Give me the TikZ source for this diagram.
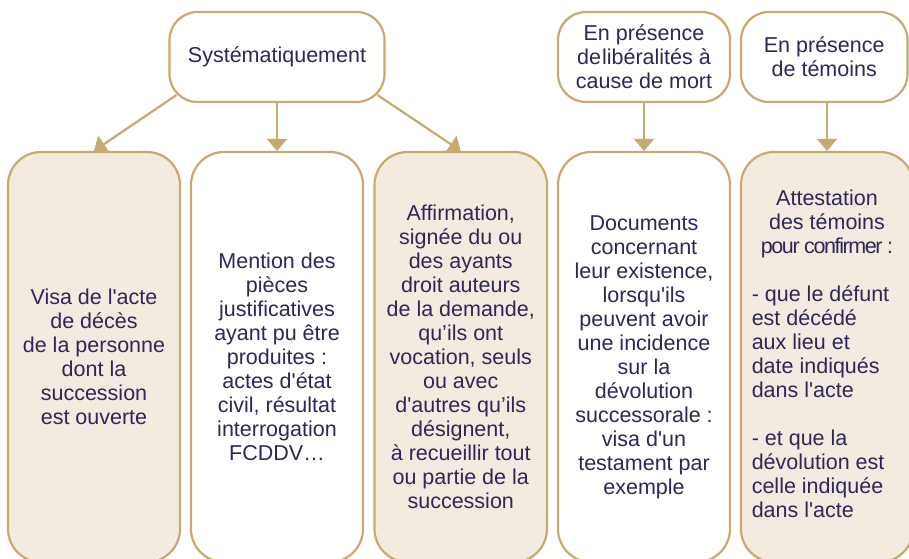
\documentclass[tikz,border=0pt]{standalone}
\usepackage{fontspec}
\setmainfont{Liberation Sans}
\usetikzlibrary{arrows.meta,calc}
\definecolor{gold}{HTML}{C8A96E}
\definecolor{sand}{HTML}{F3EBDF}
\definecolor{ink}{HTML}{2E2757}
\newcommand\straightq{\textquotesingle}
\pgfdeclarelayer{back}
\pgfsetlayers{back,main}

\begin{document}
\begin{tikzpicture}[x=1pt,y=-1pt,
  every node/.style={font=\fontsize{21.5}{24}\selectfont, text=ink, inner sep=0pt},
  head/.style={draw=gold, line width=2.2pt, fill=white, rounded corners=28pt,
               minimum height=90pt, align=center},
  panel/.style={draw=gold, line width=2.2pt, rounded corners=33pt,
                minimum height=410pt, minimum width=172pt, align=center},
  light/.style={panel, fill=white},
  warm/.style={panel, fill=sand},
  link/.style={draw=gold, line width=2.2pt, -{Triangle[width=20pt,length=12pt]}}]

\useasboundingbox (0,0) rectangle (909,558);
\clip (0,0) rectangle (909,558);

% heading boxes
\node[head, minimum width=215pt] (sys) at (277,57) {Systématiquement};
\node[head, minimum width=172pt] (lib) at (644,57) {En présence\\de\kern1pt libéralités à\\cause de mort};
\node[head, minimum width=166.5pt] (tem) at (824.25,57) {En présence\\de témoins};

% document panels
\node[warm] (b1) at (94,357) {Visa de l\straightq acte\\de décès\\de la personne\\dont la\\succession\\est ouverte};
\node[light] (b2) at (277,357) {Mention des\\pièces\\justificatives\\ayant pu être\\produites :\\actes d\straightq état\\civil, résultat\\interrogation\\FCDDV…};
\node[warm, minimum width=172.5pt] (b3) at (460.75,357) {Affirmation,\\signée du ou\\des ayants\\droit auteurs\\de la demande,\\qu’ils ont\\vocation, seuls\\ou avec\\d\straightq autres qu’ils\\désignent,\\à recueillir tout\\ou partie de la\\succession};
\node[light] (b4) at (644,357) {Documents\\concernant\\leur existence,\\lorsqu\straightq ils\\peuvent avoir\\une incidence\\sur la\\dévolution\\successorale :\\visa d\straightq un\\testament par\\exemple};
\node[warm] (b5) at (827,357) {\begin{tabular}{@{}l@{\hspace{13pt}}}
  \multicolumn{1}{@{}c@{}}{Attestation}\\
  \multicolumn{1}{@{}c@{}}{des témoins}\\
  \multicolumn{1}{@{}c@{}}{\addfontfeature{LetterSpace=-6.5}pour confirmer :}\\
  \\
  - que le défunt\\
  est décédé\\
  aux lieu et\\
  date indiqués\\
  dans l\straightq acte\\
  \\
  - et que la\\
  dévolution est\\
  celle indiquée\\
  dans l\straightq acte
\end{tabular}};

% page ground and connectors, kept under the boxes
\begin{pgfonlayer}{back}
  \fill[white] (0,0) rectangle (909,558);
  \draw[link] ($(sys.south west)+(8,-8)$) -- (b1.north);
  \draw[link] (sys.south) -- (b2.north);
  \draw[link] ($(sys.south east)+(-8,-8)$) -- (b3.north);
  \draw[link] (lib.south) -- (b4.north);
  \draw[link] (tem.south -| b5.north) -- (b5.north);
\end{pgfonlayer}
\end{tikzpicture}
\end{document}
